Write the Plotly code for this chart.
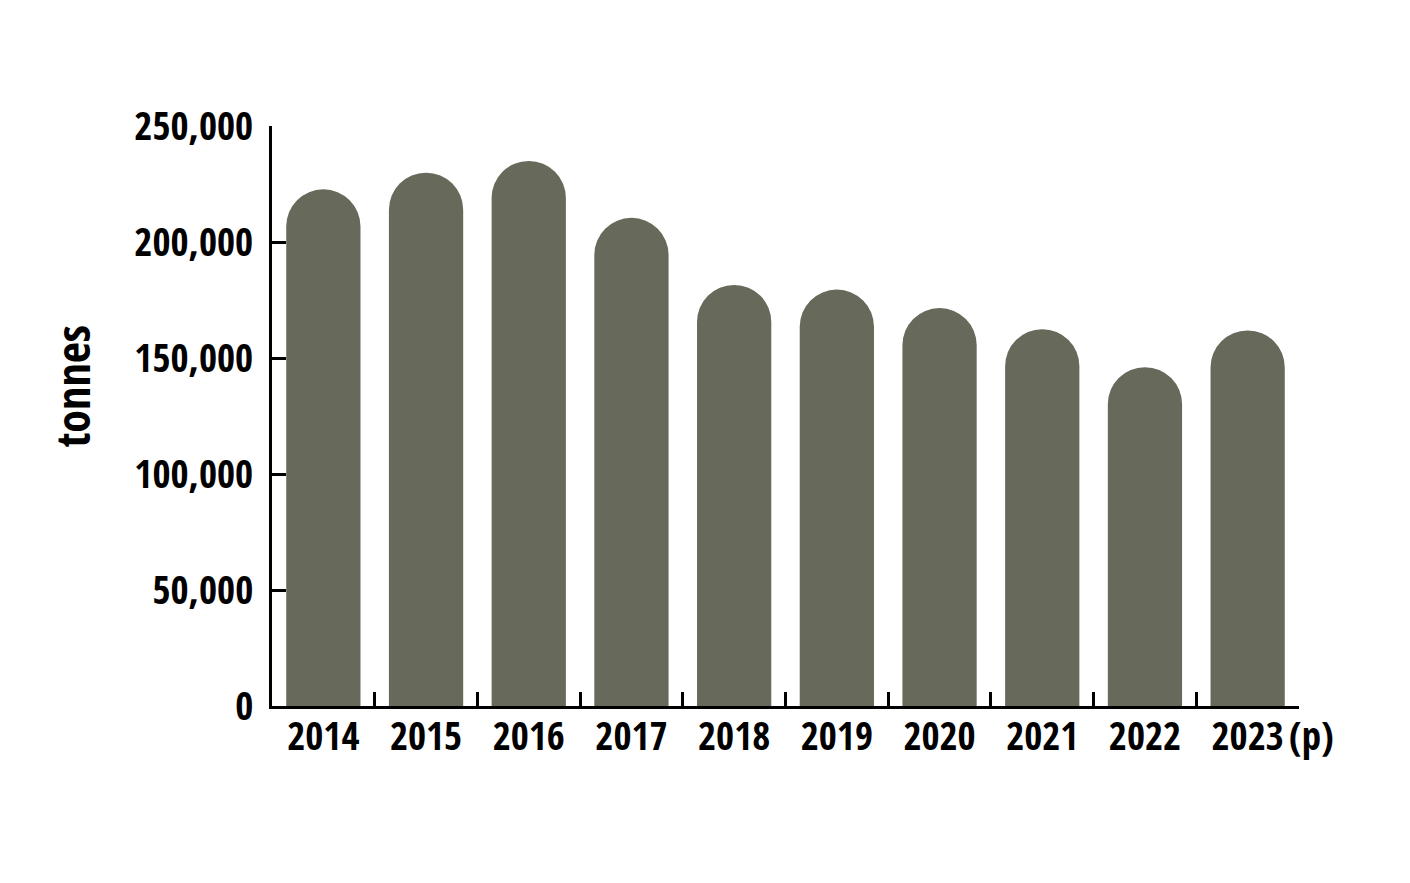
import plotly.graph_objects as go

years = ["2014", "2015", "2016", "2017", "2018", "2019", "2020", "2021", "2022", "2023"]
tonnes = [222700, 229900, 234900, 210400, 181500, 179500, 171500, 162400, 146000, 161900]

y_ticks = [0, 50000, 100000, 150000, 200000, 250000]
y_tick_labels = ["0", "50,000", "100,000", "150,000", "200,000", "250,000"]

FONT = "Open Sans Condensed, Roboto Condensed, sans-serif"
BAR_COLOR = "#676a5b"
FSIZE = 39

fig = go.Figure()
fig.add_trace(go.Bar(
    x=years, y=tonnes,
    marker=dict(color=BAR_COLOR, line=dict(width=0), cornerradius="50%"),
    hoverinfo="x+y",
))

fig.update_layout(
    width=1410, height=883,
    margin=dict(l=264, r=119, t=118, b=185),
    paper_bgcolor="white", plot_bgcolor="white",
    showlegend=False,
    bargap=0.277,
    font=dict(family=FONT, size=FSIZE, color="black"),
)

fig.update_xaxes(
    type="category", range=[-0.5, len(years) - 0.5],
    showline=True, linecolor="black", linewidth=3,
    ticks="inside", tickson="boundaries", ticklen=14, tickwidth=3, tickcolor="black",
    tickfont=dict(family=FONT, size=FSIZE, color="black", weight="bold"),
    ticklabelstandoff=-6,
    showgrid=False, zeroline=False,
)
fig.update_yaxes(
    range=[0, 250000],
    tickvals=y_ticks, ticktext=y_tick_labels,
    showline=True, linecolor="black", linewidth=3,
    ticks="inside", ticklen=14, tickwidth=3, tickcolor="black",
    tickfont=dict(family=FONT, size=FSIZE, color="black", weight="bold"),
    ticklabelstandoff=8,
    showgrid=False, zeroline=False,
)

# "(p)" = preliminary, sits right of the last year label
fig.add_annotation(
    x=len(years) - 1, y=0, xref="x", yref="paper",
    text="(p)", showarrow=False,
    xanchor="left", yanchor="top", xshift=39, yshift=0,
    font=dict(family=FONT, size=FSIZE, color="black", weight="bold"),
)

fig.add_annotation(
    x=-0.195, y=0.552, xref="paper", yref="paper",
    text="tonnes", textangle=-90, showarrow=False,
    xanchor="center", yanchor="middle",
    font=dict(family=FONT, size=46, color="black", weight="bold"),
)

fig.write_html("out.html")
